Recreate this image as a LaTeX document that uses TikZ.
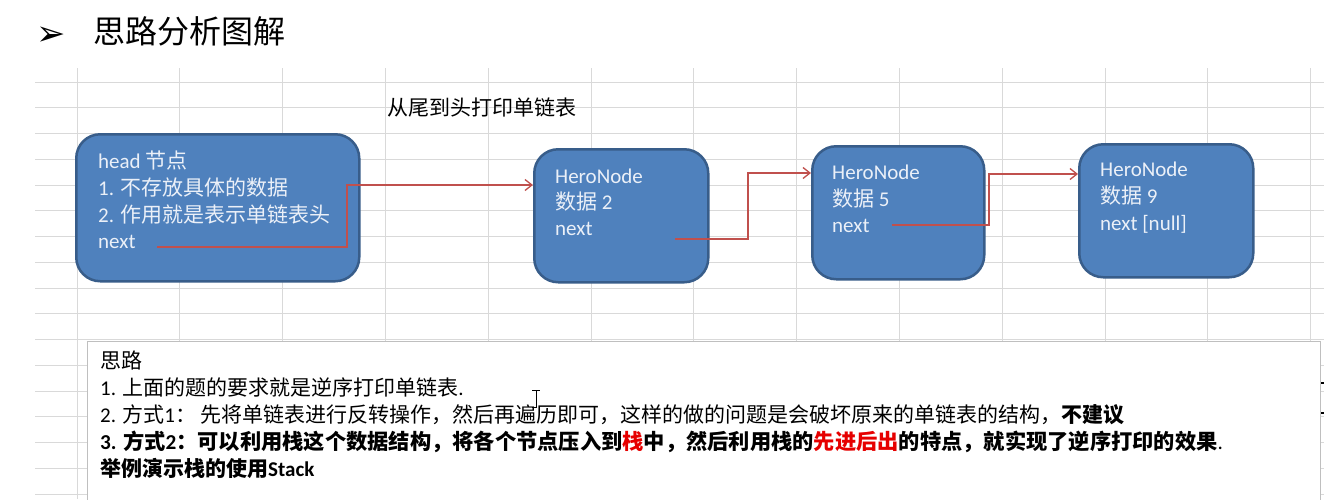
\documentclass[tikz,border=0pt]{standalone}
\usepackage{fontspec}
\setmainfont{Carlito}
\newfontfamily\cjk{Noto Sans CJK SC}
\newfontfamily\dejavu{DejaVu Sans}
\usetikzlibrary{arrows.meta}
\definecolor{nodefill}{RGB}{79,129,189}
\definecolor{nodeline}{RGB}{56,93,138}
\definecolor{nodetext}{RGB}{235,240,248}
\definecolor{arrowred}{RGB}{192,80,77}
\definecolor{gridgray}{RGB}{217,217,217}
\definecolor{boxgray}{RGB}{191,191,191}
\definecolor{hotred}{RGB}{230,0,0}
\newcommand\zh[1]{{\cjk #1}}
\begin{document}
\begin{tikzpicture}[x=1pt,y=-1pt,
  listnode/.style={draw=nodeline, fill=nodefill, line width=2.5pt, rounded corners=24pt, anchor=north west, inner sep=0pt},
  ntext/.style={anchor=base west, text=nodetext, font=\fontsize{21}{27}\selectfont, inner sep=0pt},
  btext/.style={anchor=base west, text=black, font=\fontsize{21}{27}\selectfont, inner sep=0pt},
  link/.style={draw=arrowred, line width=1.3pt, -{Straight Barb[length=7pt,width=11pt,line width=1.3pt]}},
  gridline/.style={draw=gridgray, line width=1pt}]
\useasboundingbox (0,0) rectangle (1324,499);
\fill[white] (0,0) rectangle (1324,499);
% grid
\foreach \k in {0,...,12} \draw[gridline] ({77+\k*102.8},68) -- ({77+\k*102.8},499);
\foreach \k in {0,...,16} \draw[gridline] (35,{82+\k*25.75}) -- (1324,{82+\k*25.75});
% title
\node[anchor=base west, inner sep=0pt, font=\fontsize{35}{35}\selectfont\dejavu] (bullet) at (36,45) {➢};
\node[anchor=base west, inner sep=0pt, font=\fontsize{32}{32}\selectfont\cjk] (title) at (93,43) {思路分析图解};
\node[btext, font=\fontsize{21}{21}\selectfont\cjk] (sub) at (387,115) {从尾到头打印单链表};
% list nodes
\node[listnode, minimum width=283pt, minimum height=147pt] (head) at (75,133) {};
\node[listnode, minimum width=174pt, minimum height=133pt] (n2) at (533,148) {};
\node[listnode, minimum width=172pt, minimum height=133pt] (n5) at (811,145) {};
\node[listnode, minimum width=174pt, minimum height=133pt] (n9) at (1078,143) {};
% node texts
\node[ntext] (h1) at (98,168) {head \zh{节点}};
\node[ntext] (h2) at (98,195) {1. \zh{不存放具体的数据}};
\node[ntext] (h3) at (98,222) {2. \zh{作用就是表示单链表头}};
\node[ntext] (h4) at (98,248) {next};
\node[ntext] (a1) at (555,183) {HeroNode};
\node[ntext] (a2) at (555,209) {\zh{数据} 2};
\node[ntext] (a3) at (555,235) {next};
\node[ntext] (b1) at (832,179) {HeroNode};
\node[ntext] (b2) at (832,206) {\zh{数据} 5};
\node[ntext] (b3) at (832,232) {next};
\node[ntext] (c1) at (1100,176) {HeroNode};
\node[ntext] (c2) at (1100,203) {\zh{数据} 9};
\node[ntext] (c3) at (1100,230) {next [null]};
% links
\coordinate (s1) at (157,247);
\coordinate (s2) at (675,239);
\coordinate (s3) at (892,225);
\draw[link] (s1) -- (347,247) -- (347,185) -- (n2.west |- 0,185);
\draw[link] (s2) -- (748,239) -- (748,173) -- (n5.west |- 0,173);
\draw[link] (s3) -- (989,225) -- (989,174) -- (n9.west |- 0,174);
% text box
\node[draw=boxgray, fill=white, line width=1.2pt, anchor=north west, minimum width=1233pt, minimum height=180pt, inner sep=0pt] (box) at (87,341) {};
\node[btext] (l1) at (100,368) {\zh{思路}};
\node[btext] (l2) at (100,395) {1. \zh{上面的题的要求就是逆序打印单链表}.};
\node[btext] (l3) at (100,422) {2. \zh{方式}1\zh{：} \zh{先将单链表进行反转操作，然后再遍历即可，这样的做的问题是会破坏原来的单链表的结构，}{\bfseries\cjk 不建议}};
\node[btext, font=\fontsize{21.25}{27}\selectfont] (l4) at (100,449) {{\bfseries 3. \zh{方式}2\zh{：可以利用栈这个数据结构，将各个节点压入到}\textcolor{hotred}{\zh{栈}}\zh{中，然后利用栈的}\textcolor{hotred}{\zh{先进后出}}\zh{的特点，就实现了逆序打印的效果}}.};
\node[btext] (l5) at (100,476) {{\bfseries\zh{举例演示栈的使用}Stack}};
% cursor and edge marks
\draw[black, line width=0.8pt] (532,390) -- (540,390) (536,390) -- (536,407) -- (532,407);
\fill[black] (1321,382) rectangle (1324,384);
\fill[black] (1321,412) rectangle (1324,414);
\end{tikzpicture}
\end{document}
